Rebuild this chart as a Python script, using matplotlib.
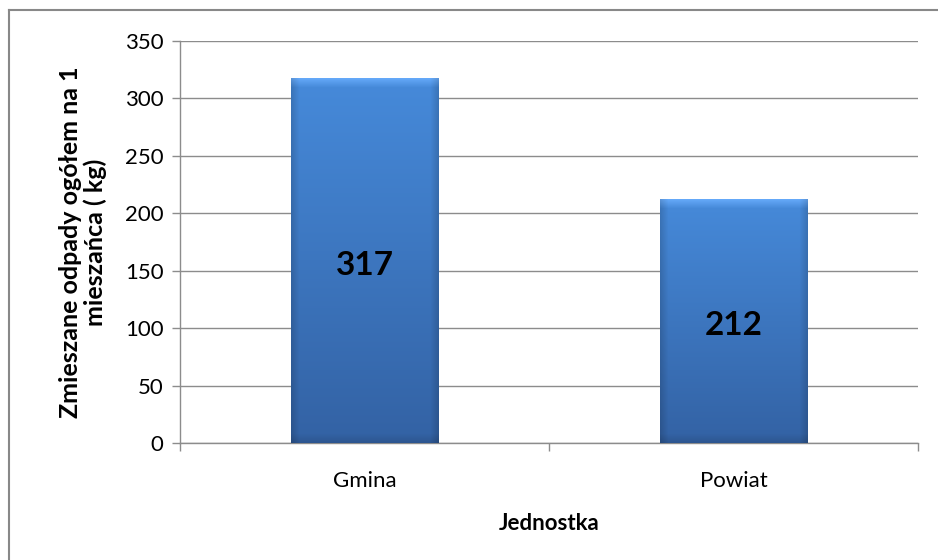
import numpy as np
import matplotlib
matplotlib.use('Agg')
import matplotlib.pyplot as plt
from matplotlib.lines import Line2D

# dane
categories = ['Gmina', 'Powiat']
values = [317, 212]
y_ticks = [0, 50, 100, 150, 200, 250, 300, 350]

plt.rcParams['font.family'] = ['Lato', 'DejaVu Sans']

grid_col = '#8c8c8c'
top_col = np.array([0x46, 0x8a, 0xda]) / 255
bot_col = np.array([0x33, 0x62, 0xa4]) / 255


def bar_image(nx, ny):
    """Gradient z efektem fazowania (jak w Excelu); nx, ny w pikselach."""
    t = np.linspace(0, 1, ny)[:, None, None]
    img = top_col[None, None, :] * (1 - t) + bot_col[None, None, :] * t
    img = np.repeat(img, nx, axis=1)
    xs = np.arange(nx)
    dist = np.minimum(xs, nx - 1 - xs)
    # ciemniejsze brzegi boczne
    edge = np.clip(1 - dist / 8.0, 0, 1) * 0.15
    img = img * (1 - edge[None, :, None])
    # jaśniejsza górna faza
    band = 9
    for i in range(band):
        k = 1 - i / band
        img[i] = np.clip(img[i] + 0.12 * k, 0, 1)
    # ciemniejsza dolna faza
    for i in range(band):
        k = 1 - i / band
        img[ny - 1 - i] = img[ny - 1 - i] * (1 - 0.12 * k)
    return img


fig = plt.figure(figsize=(9.38, 5.6), dpi=100)
ax = fig.add_axes([180 / 938, 1 - 443 / 560, 738 / 938, 402 / 560])

x = np.arange(len(categories))
bars = ax.bar(x, values, width=0.4, color='none', zorder=3)
ax.set_xlim(-0.5, len(categories) - 0.5)
ax.set_ylim(0, 350)

px_x = 738 / len(categories)
px_y = 402 / 350
for b, v in zip(bars, values):
    x0, w, h = b.get_x(), b.get_width(), b.get_height()
    img = bar_image(int(w * px_x), int(h * px_y))
    ax.imshow(img, extent=[x0, x0 + w, 0, h], origin='upper',
              aspect='auto', zorder=3, interpolation='bilinear')
    ax.text(x0 + w / 2, h / 2 - 4, str(v), ha='center', va='center',
            fontsize=24, fontweight='bold', color='black', zorder=4)

ax.set_xlim(-0.5, len(categories) - 0.5)
ax.set_ylim(0, 350)
ax.set_yticks(y_ticks)
ax.yaxis.grid(True, color=grid_col, linewidth=1)
ax.set_axisbelow(True)

ax.set_xticks(x)
ax.set_xticklabels(categories, fontsize=16)
ax.set_xticks(np.arange(len(categories) + 1) - 0.5, minor=True)
ax.tick_params(axis='x', which='major', length=0, pad=20)
ax.tick_params(axis='x', which='minor', length=6, color=grid_col, width=1)
ax.tick_params(axis='y', length=6, color=grid_col, width=1, labelsize=16, pad=6)

for s in ['top', 'right']:
    ax.spines[s].set_visible(False)
for s in ['left', 'bottom']:
    ax.spines[s].set_color(grid_col)
    ax.spines[s].set_linewidth(1)

ax.set_ylabel('Zmieszane odpady ogółem na 1\nmieszańca ( kg)', fontsize=18,
              fontweight='bold', linespacing=1.08, labelpad=13)
ax.set_xlabel('Jednostka', fontsize=16, fontweight='bold', labelpad=16)

# ramka wykresu
fig.add_artist(Line2D([9 / 938, 9 / 938], [0, 1 - 10 / 560], color='#888888', lw=1.5,
                      transform=fig.transFigure))
fig.add_artist(Line2D([9 / 938, 1], [1 - 10 / 560, 1 - 10 / 560], color='#888888', lw=1.5,
                      transform=fig.transFigure))

fig.savefig('out.png', dpi=100)
